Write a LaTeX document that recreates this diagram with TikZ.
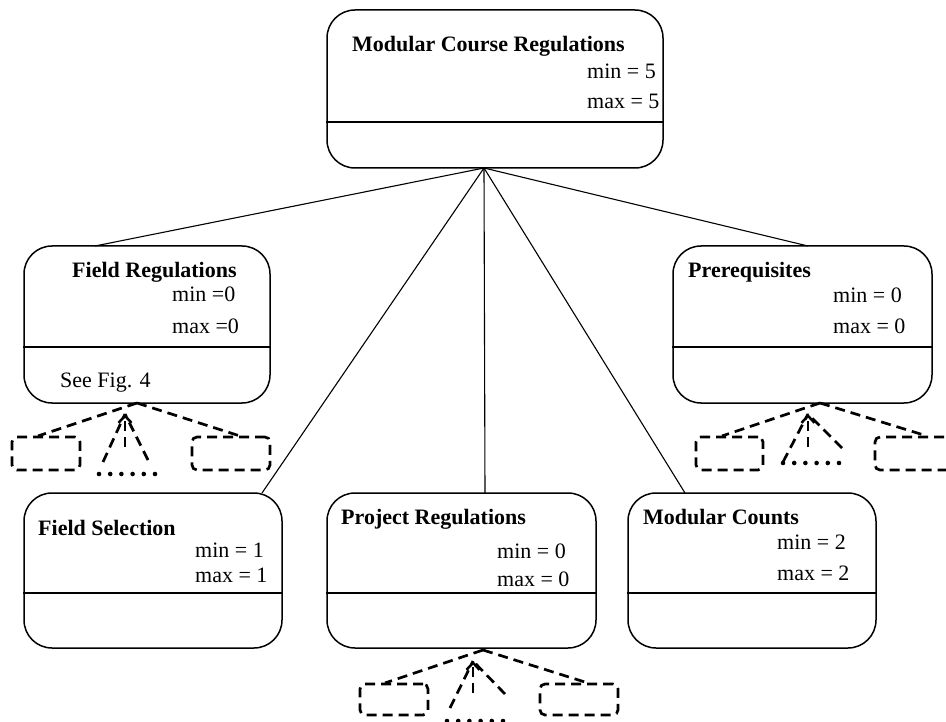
\documentclass[tikz,border=0pt]{standalone}
\usepackage{fontspec}
\setmainfont{Liberation Serif}
\usetikzlibrary{arrows.meta}
\begin{document}
\begin{tikzpicture}[x=1pt,y=-1pt,
  box/.style={draw, line width=1.5pt, rounded corners=28pt, inner sep=0pt},
  divider/.style={line width=1.5pt},
  ttl/.style={anchor=base west, inner sep=0pt, font=\fontsize{22pt}{26pt}\selectfont\bfseries},
  txt/.style={anchor=base west, inner sep=0pt, font=\fontsize{22pt}{26pt}\selectfont},
  link/.style={line width=1.1pt},
  dsh/.style={line width=2.7pt, dash pattern=on 10pt off 6pt},
  sbox/.style={draw, line width=2.7pt, dash pattern=on 10pt off 6pt, rounded corners=5pt, inner sep=0pt},
  gen/.style={line width=2.7pt, dash pattern=on 10pt off 6pt, -{Straight Barb[length=7pt,width=13pt,line width=2.5pt]}},
  dot/.style={fill=black}]
\useasboundingbox (0,0) rectangle (946,722);
\clip (0,0) rectangle (946,722);

% main boxes
\node[box, minimum width=336pt, minimum height=158pt] (top) at (495,89) {};
\node[box, minimum width=246pt, minimum height=157pt] (fr) at (147,324.5) {};
\node[box, minimum width=259pt, minimum height=157pt] (pr) at (802.5,324.5) {};
\node[box, minimum width=258pt, minimum height=155pt] (fs) at (153,570.5) {};
\node[box, minimum width=269pt, minimum height=155pt] (pj) at (461.5,570.5) {};
\node[box, minimum width=248pt, minimum height=155pt] (mc) at (752,570.5) {};

% dividers
\draw[divider] (top.west |- 0,122) -- (top.east |- 0,122);
\draw[divider] (fr.west |- 0,347) -- (fr.east |- 0,347);
\draw[divider] (pr.west |- 0,347) -- (pr.east |- 0,347);
\draw[divider] (fs.west |- 0,593) -- (fs.east |- 0,593);
\draw[divider] (pj.west |- 0,593) -- (pj.east |- 0,593);
\draw[divider] (mc.west |- 0,593) -- (mc.east |- 0,593);

% texts
\node[ttl] (t0) at (352,52) {Modular Course Regulations};
\node[txt] (t0a) at (587,79) {min = 5};
\node[txt] (t0b) at (587,109) {max = 5};

\node[ttl] (t1) at (72,278) {Field Regulations};
\node[txt] (t1a) at (172,302) {min =0};
\node[txt] (t1b) at (172,334) {max =0};
\node[txt] (t1c) at (60,387) {See Fig. 4};

\node[ttl] (t2) at (688,278) {Prerequisites};
\node[txt] (t2a) at (833,303) {min = 0};
\node[txt] (t2b) at (833,334) {max = 0};

\node[ttl] (t3) at (38,535) {Field Selection};
\node[txt] (t3a) at (195,557) {min = 1};
\node[txt] (t3b) at (195,582) {max = 1};

\node[ttl] (t4) at (341,524) {Project Regulations};
\node[txt] (t4a) at (497,558) {min = 0};
\node[txt] (t4b) at (497,586) {max = 0};

\node[ttl] (t5) at (643,524) {Modular Counts};
\node[txt] (t5a) at (777,549) {min = 2};
\node[txt] (t5b) at (777,580) {max = 2};

% connectors from the top box
\coordinate (apex) at (484,168);
\coordinate (frin) at (95,246);
\coordinate (prin) at (808,246);
\coordinate (fsin) at (262,493);
\coordinate (pjin) at (485,493);
\coordinate (mcin) at (685,493);
\draw[link] (apex) -- (frin);
\draw[link] (apex) -- (prin);
\draw[link] (apex) -- (fsin);
\draw[link] (apex) -- (pjin);
\draw[link] (apex) -- (mcin);

% ---- Field Regulations subtree
\node[sbox, minimum width=68pt, minimum height=33pt] (frl) at (46,453.5) {};
\node[sbox, minimum width=78pt, minimum height=33pt] (frr) at (231,453.5) {};
\coordinate (frap) at (137,403);
\coordinate (frle) at (38,436);
\coordinate (frre) at (240,436);
\coordinate (frtip) at (125,414);
\coordinate (frst) at (125,447);
\coordinate (frdl) at (103,462);
\coordinate (frdr) at (148,460);
\draw[dsh] (frap) -- (frle);
\draw[dsh] (frap) -- (frre);
\draw[gen] (frst) -- (frtip);
\draw[dsh] (frdl) -- (frtip);
\draw[dsh] (frdr) -- (frtip);
\foreach \i in {0,...,5} \fill[dot] (99+11.2*\i,474) circle (2.3pt);

% ---- Prerequisites subtree
\node[sbox, minimum width=67pt, minimum height=33pt] (prl) at (729.5,453.5) {};
\node[sbox, minimum width=90pt, minimum height=33pt] (prr) at (920,453.5) {};
\coordinate (prap) at (820,403);
\coordinate (prle) at (722,436);
\coordinate (prre) at (927,436);
\coordinate (prtip) at (808,414);
\coordinate (prst) at (808,447);
\coordinate (prdl) at (783,462);
\coordinate (prdr) at (842,448);
\draw[dsh] (prap) -- (prle);
\draw[dsh] (prap) -- (prre);
\draw[gen] (prst) -- (prtip);
\draw[dsh] (prdl) -- (prtip);
\draw[dsh] (prdr) -- (prtip);
\foreach \i in {0,...,5} \fill[dot] (783+11.2*\i,463) circle (2.3pt);

% ---- Project Regulations subtree
\node[sbox, minimum width=68pt, minimum height=31pt] (pjl) at (394,699.5) {};
\node[sbox, minimum width=78pt, minimum height=31pt] (pjr) at (579,699.5) {};
\coordinate (pjap) at (483,650);
\coordinate (pjle) at (385,683);
\coordinate (pjre) at (588,683);
\coordinate (pjtip) at (473,661);
\coordinate (pjst) at (473,693);
\coordinate (pjdl) at (450,708);
\coordinate (pjdr) at (505,694);
\draw[dsh] (pjap) -- (pjle);
\draw[dsh] (pjap) -- (pjre);
\draw[gen] (pjst) -- (pjtip);
\draw[dsh] (pjdl) -- (pjtip);
\draw[dsh] (pjdr) -- (pjtip);
\foreach \i in {0,...,5} \fill[dot] (447+11.2*\i,721) circle (2.3pt);
\end{tikzpicture}
\end{document}
